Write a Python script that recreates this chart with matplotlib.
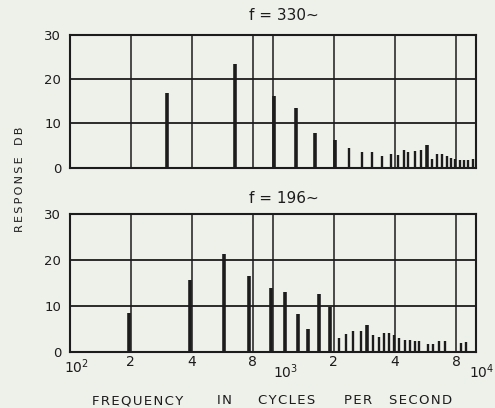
import matplotlib
matplotlib.use("Agg")
import matplotlib.pyplot as plt
from matplotlib.ticker import NullLocator

# ----------------- DATA -----------------
# top panel, fundamental f = 330 c/s  (frequency in c/s, response in dB)
freq_330 = [301, 653, 1016, 1304, 1618, 2029, 2386, 2747, 3097, 3456,
            3841, 4159, 4436, 4657, 5025, 5379, 5738, 6113, 6470, 6823,
            7197, 7533, 7909, 8369, 8753, 9196, 9730]
db_330 = [17.0, 23.4, 16.1, 13.6, 7.8, 6.3, 4.4, 3.5, 3.6, 2.7,
          3.2, 2.9, 4.0, 3.5, 3.8, 4.0, 5.1, 1.9, 3.0, 3.2,
          2.6, 2.3, 2.0, 1.8, 1.8, 1.8, 1.9]

# bottom panel, fundamental f = 196 c/s
freq_196 = [196, 392, 577, 765, 980, 1155, 1329, 1502, 1689, 1921,
            2123, 2290, 2496, 2709, 2915, 3131, 3333, 3536, 3729, 3938,
            4201, 4498, 4732, 5013, 5277, 5823, 6183, 6573, 7021, 8513,
            8979]
db_196 = [8.5, 15.7, 21.3, 16.6, 13.9, 13.0, 8.3, 5.0, 12.5, 9.8,
          2.9, 3.9, 4.6, 4.6, 5.9, 3.6, 3.3, 4.0, 4.0, 3.6,
          3.1, 2.5, 2.6, 2.4, 2.3, 1.7, 1.7, 2.3, 2.3, 1.9,
          2.2]

titles = ["f = 330\u223c", "f = 196\u223c"]
y_ticks = [0, 10, 20, 30]
grid_x = [200, 400, 800, 1000, 2000, 4000, 8000]
octave_labels = [(200, "2"), (400, "4"), (800, "8"),
                 (2000, "2"), (4000, "4"), (8000, "8")]
decade_labels = [(100, "$10^2$"), (1000, "$10^3$"), (10000, "$10^4$")]
xlabel_words = ["FREQUENCY", "IN", "CYCLES", "PER", "SECOND"]

# ----------------- STYLE ------------------
W, H = 495, 408
BG = "#eef0ea"
INK = "#1c1c1c"
plt.rcParams["font.family"] = ["DejaVu Sans"]


def fx(px):
    return px / W


def fy(py):
    return 1 - py / H


def spaced(s, sep="\u200a"):
    return sep.join(s)


def draw_panel(ax, freqs, dbs, title, title_y):
    ax.set_facecolor(BG)
    ax.set_xscale("log")
    ax.set_xlim(100, 10000)
    ax.set_ylim(0, 30)
    ax.xaxis.set_major_locator(NullLocator())
    ax.xaxis.set_minor_locator(NullLocator())
    ax.set_yticks(y_ticks)
    ax.tick_params(axis="y", length=0, pad=6, labelsize=9.5, colors=INK)
    for s in ax.spines.values():
        s.set_linewidth(1.5)
        s.set_color(INK)
    for g in grid_x:
        ax.axvline(g, color=INK, lw=1.1, zorder=1)
    for g in (10, 20):
        ax.axhline(g, color=INK, lw=1.3, zorder=1)
    widths = [2.6 if d >= 5 else 1.7 for d in dbs]
    ax.vlines(freqs, 0, dbs, colors=INK, linewidths=widths, zorder=3)
    fig.text(fx(284), fy(title_y), title, ha="center", va="center",
             fontsize=11, color=INK)


fig = plt.figure(figsize=(W / 100, H / 100), dpi=100, facecolor=BG)

left, right = 69.5, 475.7
ax1 = fig.add_axes([fx(left), fy(167.7), fx(right - left), (167.7 - 35) / H])
ax2 = fig.add_axes([fx(left), fy(351.7), fx(right - left), (351.7 - 214.3) / H])

draw_panel(ax1, freq_330, db_330, titles[0], 16)
draw_panel(ax2, freq_196, db_196, titles[1], 198)

# x tick labels, bottom panel only
for x, lab in octave_labels:
    ax2.annotate(lab, xy=(x, 0), xycoords=("data", "axes fraction"),
                 xytext=(0, -7.5), textcoords="offset points",
                 ha="center", va="center", fontsize=10, color=INK)
for x, lab in decade_labels:
    dy = -10.5 if x == 100 else -14.5
    dx = {100: -4, 1000: 0, 10000: -4.5}[x]
    ax2.annotate(lab, xy=(x, 0), xycoords=("data", "axes fraction"),
                 xytext=(dx, dy), textcoords="offset points",
                 ha="left", va="center", fontsize=10, color=INK,
                 annotation_clip=False)

# x axis label, wide word spacing as in the original
word_x = [137.5, 224.5, 286.5, 358.5, 421]
for wx, w in zip(word_x, xlabel_words):
    fig.text(fx(wx), fy(400.5), spaced(w), ha="center", va="center",
             fontsize=9.5, color=INK)

# y axis label
fig.text(fx(20), fy(194), spaced("RESPONSE", "\u2009"), rotation=90,
         ha="center", va="center", fontsize=8, color=INK)
fig.text(fx(20), fy(135.5), spaced("DB", "\u2009"), rotation=90,
         ha="center", va="center", fontsize=8, color=INK)

fig.savefig("out.png", dpi=100, facecolor=BG)
